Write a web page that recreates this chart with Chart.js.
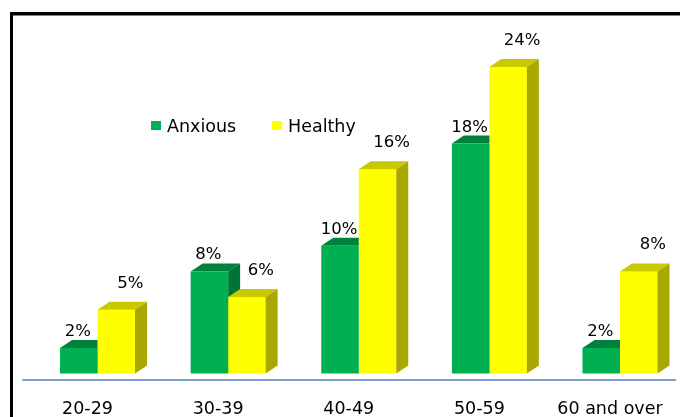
<!DOCTYPE html>
<html>
<head>
<meta charset="utf-8">
<script src="https://cdn.jsdelivr.net/npm/chart.js@4/dist/chart.umd.min.js"></script>
<style>
  html, body { margin: 0; padding: 0; background: #fff; overflow: hidden; }
  #wrap { position: relative; width: 680px; height: 417px; overflow: hidden; }
  #wrap canvas { display: block; }
</style>
</head>
<body>
<div id="wrap"><canvas id="chart" width="700" height="417"></canvas></div>
<script>
// Share of each age group, in percent
const ageGroups = ['20-29', '30-39', '40-49', '50-59', '60 and over'];
const anxious = [2, 8, 10, 18, 2];
const healthy = [5, 6, 16, 24, 8];
const seriesNames = ['Anxious', 'Healthy'];

const FONT = '"DejaVu Sans", "Liberation Sans", Arial, sans-serif';
const DX = 12, DY = 8;                 // extrusion of the pseudo-3D bars
const faces = [
  { front: '#00B050', top: '#00823D', side: '#007437' },
  { front: '#FFFF00', top: '#C9C900', side: '#A8A800' }
];

function barGeom(bar) {
  const p = bar.getProps(['x', 'y', 'base', 'width'], true);
  return { l: p.x - p.width / 2, r: p.x + p.width / 2, y: p.y, base: p.base, x: p.x };
}

function drawDepth(ctx, bar, c) {
  const g = barGeom(bar);
  ctx.fillStyle = c.top;
  ctx.beginPath();
  ctx.moveTo(g.l, g.y);
  ctx.lineTo(g.l + DX, g.y - DY);
  ctx.lineTo(g.r + DX, g.y - DY);
  ctx.lineTo(g.r, g.y);
  ctx.closePath();
  ctx.fill();
  ctx.fillStyle = c.side;
  ctx.beginPath();
  ctx.moveTo(g.r, g.y);
  ctx.lineTo(g.r + DX, g.y - DY);
  ctx.lineTo(g.r + DX, g.base - DY);
  ctx.lineTo(g.r, g.base);
  ctx.closePath();
  ctx.fill();
}

const frameAndFloor = {
  id: 'frameAndFloor',
  beforeDraw(chart) {
    const ctx = chart.ctx;
    ctx.save();
    ctx.fillStyle = '#fff';
    ctx.fillRect(0, 0, chart.width, chart.height);
    ctx.fillStyle = '#000';
    ctx.fillRect(10, 12, chart.width, 3);
    ctx.fillRect(10, 12, 3, chart.height);
    ctx.fillStyle = '#808080';
    ctx.fillRect(13, 15, chart.width, 1);
    ctx.restore();
  },
  beforeDatasetsDraw(chart) {
    const ctx = chart.ctx;
    const a = chart.chartArea;
    ctx.save();
    // floor line
    ctx.strokeStyle = '#7F9FD0';
    ctx.lineWidth = 2;
    ctx.beginPath();
    ctx.moveTo(a.left - 10, a.bottom);
    ctx.lineTo(676, a.bottom);
    ctx.stroke();
    // depth faces of the back series
    chart.getDatasetMeta(0).data.forEach(b => drawDepth(ctx, b, faces[0]));
    ctx.restore();
  },
  afterDatasetsDraw(chart) {
    const ctx = chart.ctx;
    ctx.save();
    chart.getDatasetMeta(1).data.forEach(b => drawDepth(ctx, b, faces[1]));

    // value labels
    ctx.font = '16.5px ' + FONT;
    ctx.fillStyle = '#000';
    ctx.textAlign = 'center';
    ctx.textBaseline = 'alphabetic';
    chart.data.datasets.forEach((ds, i) => {
      chart.getDatasetMeta(i).data.forEach((b, j) => {
        const g = barGeom(b);
        const txt = ds.data[j] + '%';
        if (i === 0) ctx.fillText(txt, g.x - 1, g.y - 12);
        else ctx.fillText(txt, g.x + 14, g.y - 22);
      });
    });

    // legend
    const lx = [151, 272], ly = 121;
    ctx.textAlign = 'left';
    ctx.font = '17.5px ' + FONT;
    chart.data.datasets.forEach((ds, i) => {
      ctx.fillStyle = ds.backgroundColor;
      ctx.fillRect(lx[i], ly, 10, 9);
      ctx.fillStyle = '#000';
      ctx.fillText(ds.label, lx[i] + 16, ly + 11);
    });
    ctx.restore();
  }
};

new Chart(document.getElementById('chart'), {
  type: 'bar',
  data: {
    labels: ageGroups,
    datasets: [
      { label: seriesNames[0], data: anxious, backgroundColor: faces[0].front },
      { label: seriesNames[1], data: healthy, backgroundColor: faces[1].front }
    ]
  },
  options: {
    responsive: false,
    animation: false,
    devicePixelRatio: 1,
    layout: { padding: { left: 32.2, right: 14.7, top: 15.8, bottom: 0 } },
    datasets: {
      bar: { categoryPercentage: 0.574, barPercentage: 1.0, borderWidth: 0 }
    },
    plugins: {
      legend: { display: false },
      tooltip: { enabled: false }
    },
    scales: {
      x: {
        grid: { display: false, drawTicks: false },
        border: { display: false },
        ticks: {
          color: '#000',
          font: { family: FONT, size: 17.5 },
          padding: 19,
          labelOffset: -10,
          maxRotation: 0,
          autoSkip: false
        },
        afterFit(scale) { scale.height = 37; }
      },
      y: {
        display: false,
        min: -0.5,
        max: 28
      }
    }
  },
  plugins: [frameAndFloor]
});
</script>
</body>
</html>
